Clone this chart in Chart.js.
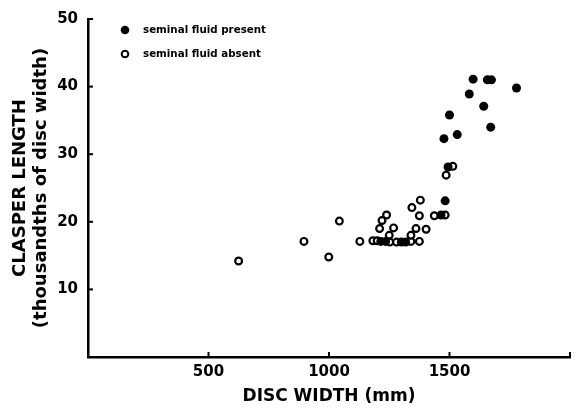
<!DOCTYPE html>
<html>
<head>
<meta charset="utf-8">
<title>Clasper length vs disc width</title>
<script src="https://cdn.jsdelivr.net/npm/chart.js@4/dist/chart.umd.min.js"></script>
<style>
  html, body { margin: 0; padding: 0; background: #fff; }
  #wrap { width: 576px; height: 408px; }
</style>
</head>
<body>
<div id="wrap"><canvas id="chart" width="576" height="408"></canvas></div>
<script>
// Disc width (mm) and clasper length (thousandths of disc width)
const presentWidth  = [1215, 1235, 1300, 1318, 1465, 1482, 1494, 1477, 1532, 1500, 1671, 1642, 1582, 1598, 1657, 1674, 1778];
const presentLength = [17.1, 17.1, 17.0, 17.0, 21.0, 23.1, 28.1, 32.3, 32.9, 35.8, 34.0, 37.1, 38.9, 41.1, 41.0, 41.0, 39.8];

const absentWidth  = [625, 896, 999, 1043, 1128, 1182, 1200, 1239, 1220, 1210, 1268, 1250, 1252, 1280,
                      1340, 1375, 1340, 1361, 1403, 1344, 1379, 1375, 1437, 1482, 1486, 1514];
const absentLength = [14.2, 17.1, 14.8, 20.1, 17.1, 17.2, 17.2, 21.0, 20.2, 19.0, 19.1, 18.0, 17.0, 17.0,
                      17.1, 17.1, 18.0, 19.0, 18.9, 22.1, 23.2, 20.9, 20.9, 21.0, 26.9, 28.2];

const xTicks = [500, 1000, 1500, 2000];
const yTicks = [10, 20, 30, 40, 50];
const legendLabels = ['seminal fluid present', 'seminal fluid absent'];

const FONT = "'DejaVu Sans', sans-serif";

function toPoints(xs, ys) {
  return xs.map((x, i) => ({ x: x, y: ys[i] }));
}

// Short tick marks pointing into the plot, plus the small legend
const decorPlugin = {
  id: 'decor',
  afterDraw(chart) {
    const ctx = chart.ctx;
    const xs = chart.scales.x;
    const ys = chart.scales.y;
    const area = chart.chartArea;
    ctx.save();
    ctx.strokeStyle = '#000';
    ctx.lineWidth = 2;
    xTicks.forEach(v => {
      const px = xs.getPixelForValue(v);
      ctx.beginPath();
      ctx.moveTo(px, area.bottom);
      ctx.lineTo(px, area.bottom - 5);
      ctx.stroke();
    });
    yTicks.forEach(v => {
      const py = ys.getPixelForValue(v);
      ctx.beginPath();
      ctx.moveTo(area.left, py);
      ctx.lineTo(area.left + 5, py);
      ctx.stroke();
    });

    // legend
    const lx = area.left + 37;
    const ly = [area.top + 11, area.top + 35];
    ctx.font = 'bold 10.3px ' + FONT;
    ctx.textBaseline = 'middle';
    ctx.fillStyle = '#000';
    chart.data.datasets.forEach((ds, i) => {
      ctx.beginPath();
      if (ds.borderWidth > 0 && ds.backgroundColor === '#fff') {
        ctx.arc(lx, ly[i], 3.3, 0, Math.PI * 2);
        ctx.fillStyle = '#fff';
        ctx.fill();
        ctx.lineWidth = 2;
        ctx.stroke();
      } else {
        ctx.arc(lx, ly[i], 4.3, 0, Math.PI * 2);
        ctx.fillStyle = '#000';
        ctx.fill();
      }
      ctx.fillStyle = '#000';
      ctx.fillText(legendLabels[i], lx + 18, ly[i]);
    });
    ctx.restore();
  }
};

new Chart(document.getElementById('chart'), {
  type: 'scatter',
  data: {
    datasets: [
      {
        label: legendLabels[0],
        data: toPoints(presentWidth, presentLength),
        pointRadius: 4.5,
        pointHoverRadius: 4.5,
        backgroundColor: '#000',
        borderColor: '#000',
        borderWidth: 0
      },
      {
        label: legendLabels[1],
        data: toPoints(absentWidth, absentLength),
        pointRadius: 3.4,
        pointHoverRadius: 3.4,
        backgroundColor: '#fff',
        borderColor: '#000',
        borderWidth: 2.2
      }
    ]
  },
  options: {
    responsive: false,
    animation: false,
    events: [],
    layout: { padding: { top: 12, right: 5, left: 0, bottom: 0 } },
    plugins: {
      legend: { display: false },
      tooltip: { enabled: false }
    },
    scales: {
      x: {
        type: 'linear',
        min: 0,
        max: 2000,
        afterFit(scale) { scale.height = 51; },
        afterBuildTicks(scale) { scale.ticks = xTicks.map(v => ({ value: v })); },
        ticks: {
          color: '#000',
          padding: 6,
          font: { family: FONT, size: 15, weight: 'bold' },
          callback: v => (v === 2000 ? '' : String(v))
        },
        grid: { display: false, drawTicks: false },
        border: { display: true, color: '#000', width: 2.5 },
        title: {
          display: true,
          text: 'DISC WIDTH (mm)',
          color: '#000',
          font: { family: FONT, size: 17, weight: 'bold' },
          padding: { top: 0, bottom: 1 }
        }
      },
      y: {
        type: 'linear',
        min: 0,
        max: 50,
        afterFit(scale) { scale.width = 88; },
        afterBuildTicks(scale) { scale.ticks = yTicks.map(v => ({ value: v })); },
        ticks: {
          color: '#000',
          padding: 10,
          font: { family: FONT, size: 15, weight: 'bold' }
        },
        grid: { display: false, drawTicks: false },
        border: { display: true, color: '#000', width: 2.5 },
        title: {
          display: true,
          text: ['CLASPER LENGTH', '(thousandths of disc width)'],
          color: '#000',
          font: { family: FONT, size: 18, weight: 'bold', lineHeight: 1.15 },
          padding: { top: 10, bottom: 0 }
        }
      }
    }
  },
  plugins: [decorPlugin]
});
</script>
</body>
</html>
